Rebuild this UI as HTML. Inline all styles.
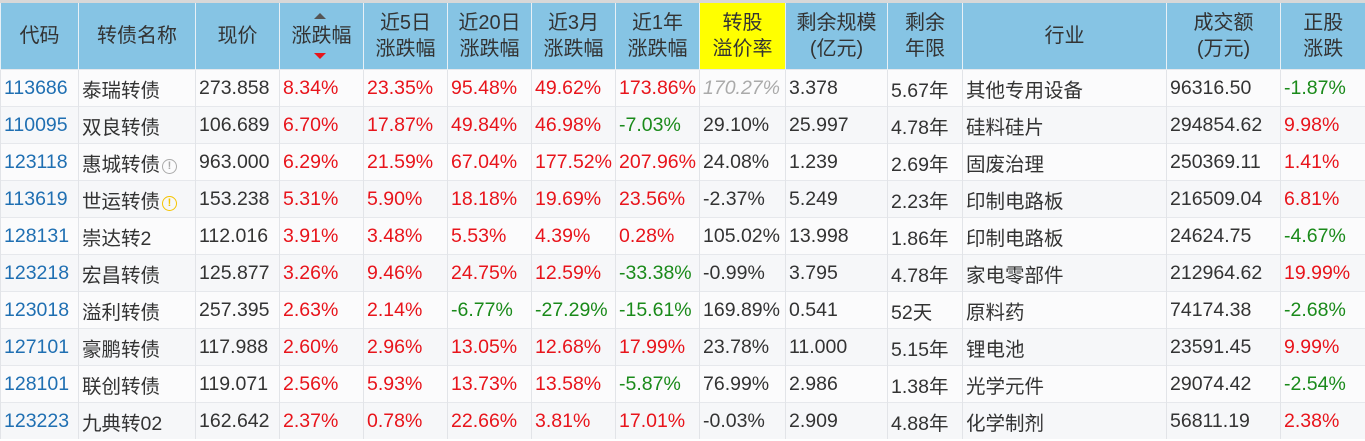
<!DOCTYPE html>
<html><head><meta charset="utf-8"><style>
body{margin:0;width:1365px;height:441px;overflow:hidden;background:#fff;font-family:"Liberation Sans","Noto Sans CJK SC",sans-serif;}
.top{height:3px;background:#d8d8d8;}
table{border-collapse:collapse;table-layout:fixed;width:1365px;}
th{background:#86c4e4;color:#333;font-weight:normal;font-size:20px;line-height:26px;height:66px;border-left:1px solid #e8f0f6;text-align:center;padding:0;position:relative;white-space:nowrap;}
th.y{background:#ffff00;}
td{height:36px;border-left:1px solid #e2e4e8;border-top:1px solid #e6e8ec;font-size:19.5px;color:#333;padding:0 0 0 3px;white-space:nowrap;overflow:hidden;}
tr:nth-child(odd) td{background:#f6f7f9;}
tr:nth-child(even) td{background:#fbfbfc;}
.b{color:#1f6fb2;}.r{color:#e8141b;}.g{color:#1a8a1a;}.gr{color:#aaa;font-style:italic;}
.i{display:inline-block;width:13px;height:13px;border:1.5px solid #aaa;border-radius:50%;font-size:11px;line-height:13px;text-align:center;color:#aaa;vertical-align:2px;margin-left:2px;font-weight:bold;}
.i.yl{border-color:#f5c400;color:#f5c400;}
.up{position:absolute;left:34px;top:10px;width:0;height:0;border-left:6px solid transparent;border-right:6px solid transparent;border-bottom:6px solid #555;}
.dn{position:absolute;left:34px;top:50px;width:0;height:0;border-left:6px solid transparent;border-right:6px solid transparent;border-top:6px solid #e8141b;}
</style></head><body>
<div class="top"></div>
<table>
<colgroup><col style="width:78px"><col style="width:117px"><col style="width:84px"><col style="width:84px"><col style="width:84px"><col style="width:84px"><col style="width:84px"><col style="width:84px"><col style="width:86px"><col style="width:102px"><col style="width:75px"><col style="width:204px"><col style="width:114px"><col style="width:85px"></colgroup>
<tr><th>代码</th><th>转债名称</th><th>现价</th><th><span class="up"></span>涨跌幅<span class="dn"></span></th><th>近5日<br>涨跌幅</th><th>近20日<br>涨跌幅</th><th>近3月<br>涨跌幅</th><th>近1年<br>涨跌幅</th><th class="y">转股<br>溢价率</th><th>剩余规模<br>(亿元)</th><th>剩余<br>年限</th><th>行业</th><th>成交额<br>(万元)</th><th>正股<br>涨跌</th></tr>
<tr><td class="b">113686</td><td>泰瑞转债</td><td>273.858</td><td class="r">8.34%</td><td class="r">23.35%</td><td class="r">95.48%</td><td class="r">49.62%</td><td class="r">173.86%</td><td class="gr">170.27%</td><td>3.378</td><td>5.67年</td><td>其他专用设备</td><td>96316.50</td><td class="g">-1.87%</td></tr>
<tr><td class="b">110095</td><td>双良转债</td><td>106.689</td><td class="r">6.70%</td><td class="r">17.87%</td><td class="r">49.84%</td><td class="r">46.98%</td><td class="g">-7.03%</td><td>29.10%</td><td>25.997</td><td>4.78年</td><td>硅料硅片</td><td>294854.62</td><td class="r">9.98%</td></tr>
<tr><td class="b">123118</td><td>惠城转债<span class="i">!</span></td><td>963.000</td><td class="r">6.29%</td><td class="r">21.59%</td><td class="r">67.04%</td><td class="r">177.52%</td><td class="r">207.96%</td><td>24.08%</td><td>1.239</td><td>2.69年</td><td>固废治理</td><td>250369.11</td><td class="r">1.41%</td></tr>
<tr><td class="b">113619</td><td>世运转债<span class="i yl">!</span></td><td>153.238</td><td class="r">5.31%</td><td class="r">5.90%</td><td class="r">18.18%</td><td class="r">19.69%</td><td class="r">23.56%</td><td>-2.37%</td><td>5.249</td><td>2.23年</td><td>印制电路板</td><td>216509.04</td><td class="r">6.81%</td></tr>
<tr><td class="b">128131</td><td>崇达转2</td><td>112.016</td><td class="r">3.91%</td><td class="r">3.48%</td><td class="r">5.53%</td><td class="r">4.39%</td><td class="r">0.28%</td><td>105.02%</td><td>13.998</td><td>1.86年</td><td>印制电路板</td><td>24624.75</td><td class="g">-4.67%</td></tr>
<tr><td class="b">123218</td><td>宏昌转债</td><td>125.877</td><td class="r">3.26%</td><td class="r">9.46%</td><td class="r">24.75%</td><td class="r">12.59%</td><td class="g">-33.38%</td><td>-0.99%</td><td>3.795</td><td>4.78年</td><td>家电零部件</td><td>212964.62</td><td class="r">19.99%</td></tr>
<tr><td class="b">123018</td><td>溢利转债</td><td>257.395</td><td class="r">2.63%</td><td class="r">2.14%</td><td class="g">-6.77%</td><td class="g">-27.29%</td><td class="g">-15.61%</td><td>169.89%</td><td>0.541</td><td>52天</td><td>原料药</td><td>74174.38</td><td class="g">-2.68%</td></tr>
<tr><td class="b">127101</td><td>豪鹏转债</td><td>117.988</td><td class="r">2.60%</td><td class="r">2.96%</td><td class="r">13.05%</td><td class="r">12.68%</td><td class="r">17.99%</td><td>23.78%</td><td>11.000</td><td>5.15年</td><td>锂电池</td><td>23591.45</td><td class="r">9.99%</td></tr>
<tr><td class="b">128101</td><td>联创转债</td><td>119.071</td><td class="r">2.56%</td><td class="r">5.93%</td><td class="r">13.73%</td><td class="r">13.58%</td><td class="g">-5.87%</td><td>76.99%</td><td>2.986</td><td>1.38年</td><td>光学元件</td><td>29074.42</td><td class="g">-2.54%</td></tr>
<tr><td class="b">123223</td><td>九典转02</td><td>162.642</td><td class="r">2.37%</td><td class="r">0.78%</td><td class="r">22.66%</td><td class="r">3.81%</td><td class="r">17.01%</td><td>-0.03%</td><td>2.909</td><td>4.88年</td><td>化学制剂</td><td>56811.19</td><td class="r">2.38%</td></tr>
</table>
</body></html>
